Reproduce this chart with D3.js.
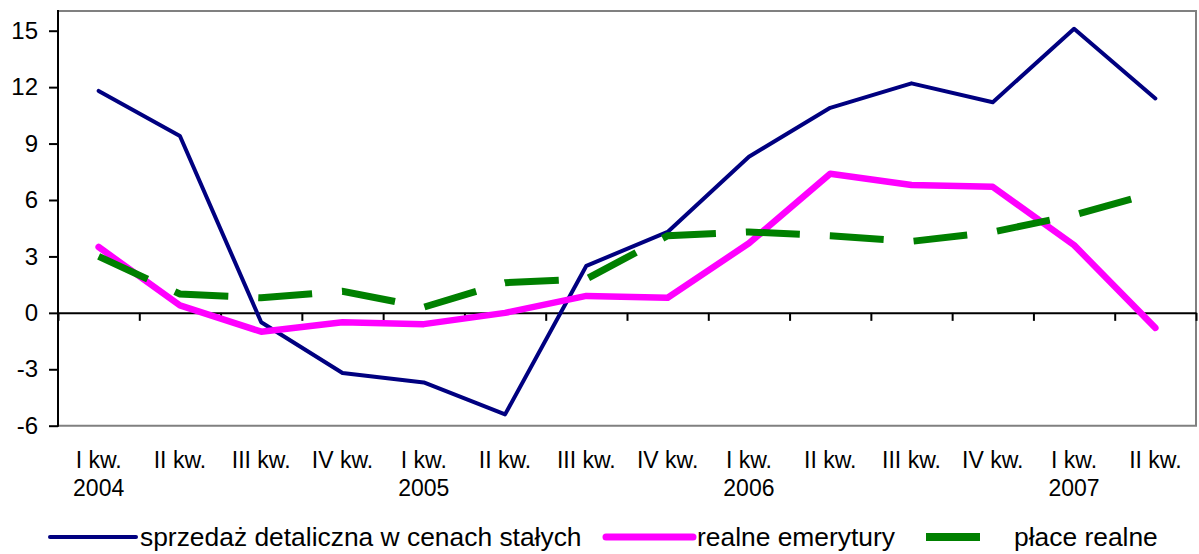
<!DOCTYPE html>
<html>
<head>
<meta charset="utf-8">
<script src="https://cdn.jsdelivr.net/npm/d3@7"></script>
<style>
  body { margin: 0; background: #fff; }
  svg { display: block; font-family: "Liberation Sans", Arial, sans-serif; }
</style>
</head>
<body>
<div id="chart"></div>
<script>
// quarters and years under them
const quarters = ["I kw.", "II kw.", "III kw.", "IV kw.", "I kw.", "II kw.", "III kw.", "IV kw.",
                  "I kw.", "II kw.", "III kw.", "IV kw.", "I kw.", "II kw."];
const years = ["2004", "", "", "", "2005", "", "", "", "2006", "", "", "", "2007", ""];

const sprzedaz = [11.8, 9.4, -0.5, -3.2, -3.7, -5.4, 2.5, 4.3, 8.3, 10.9, 12.2, 11.2, 15.1, 11.4];
const emerytury = [3.5, 0.4, -1.0, -0.5, -0.6, 0.0, 0.9, 0.8, 3.7, 7.4, 6.8, 6.7, 3.6, -0.8];
const place = [3.0, 1.0, 0.8, 1.15, 0.3, 1.6, 1.8, 4.1, 4.3, 4.1, 3.8, 4.3, 5.2, 6.4];

const yTicks = [-6, -3, 0, 3, 6, 9, 12, 15];

const seriesNames = ["sprzedaż detaliczna w cenach stałych", "realne emerytury", "płace realne"];

const width = 1199, height = 554;
const plotLeft = 58, plotRight = 1196, plotTop = 11.9, plotBottom = 425.7;

const svg = d3.select("#chart")
  .append("svg")
  .attr("width", width)
  .attr("height", height);

const x = d3.scaleBand()
  .domain(d3.range(quarters.length))
  .range([plotLeft, plotRight]);

const xEdge = d3.scaleLinear()
  .domain([0, quarters.length])
  .range([plotLeft, plotRight]);

const y = d3.scaleLinear()
  .domain([-6, 16])
  .range([plotBottom, plotTop]);

// gray frame top / right / bottom
svg.append("path")
  .attr("d", `M${plotLeft},${plotTop - 1}H${plotRight}V${plotBottom}H${plotLeft}`)
  .attr("fill", "none")
  .attr("stroke", "#808080")
  .attr("stroke-width", 2);

// y axis (plain hyphen for negatives, like the original)
const yAxis = svg.append("g")
  .attr("transform", `translate(${plotLeft},0)`)
  .call(d3.axisLeft(y).tickValues(yTicks).tickSize(9).tickPadding(11).tickSizeOuter(0)
    .tickFormat(d => String(d)));
yAxis.select(".domain").attr("stroke", "#000").attr("stroke-width", 2)
  .attr("d", `M0,${plotTop - 2}V${plotBottom + 1}`);
yAxis.selectAll(".tick line").attr("stroke", "#000").attr("stroke-width", 2);
yAxis.selectAll(".tick text")
  .attr("fill", "#000")
  .style("font-size", "24px")
  .style("font-family", "Liberation Sans, Arial, sans-serif");

// category axis on the zero line
const xAxis = svg.append("g")
  .attr("transform", `translate(0,${y(0)})`)
  .call(d3.axisBottom(xEdge).tickValues(d3.range(quarters.length + 1)).tickSize(8).tickFormat("").tickSizeOuter(0));
xAxis.select(".domain").attr("stroke", "#000").attr("stroke-width", 2);
xAxis.selectAll(".tick line").attr("stroke", "#000").attr("stroke-width", 2);

// category labels below the plot
const labels = svg.append("g")
  .style("font-size", "23px")
  .attr("fill", "#000")
  .attr("text-anchor", "middle");

labels.selectAll("text.q")
  .data(quarters)
  .enter()
  .append("text")
  .attr("class", "q")
  .attr("x", (d, i) => x(i) + x.bandwidth() / 2)
  .attr("y", 468)
  .text(d => d);

labels.selectAll("text.yr")
  .data(years)
  .enter()
  .append("text")
  .attr("class", "yr")
  .attr("x", (d, i) => x(i) + x.bandwidth() / 2)
  .attr("y", 496)
  .text(d => d);

const line = d3.line()
  .x((d, i) => x(i) + x.bandwidth() / 2)
  .y(d => y(d));

svg.append("path")
  .datum(sprzedaz)
  .attr("d", line)
  .attr("fill", "none")
  .attr("stroke", "#000080")
  .attr("stroke-width", 4)
  .attr("stroke-linejoin", "round")
  .attr("stroke-linecap", "round");

svg.append("path")
  .datum(emerytury)
  .attr("d", line)
  .attr("fill", "none")
  .attr("stroke", "#ff00ff")
  .attr("stroke-width", 6.5)
  .attr("stroke-linejoin", "round")
  .attr("stroke-linecap", "round");

svg.append("path")
  .datum(place)
  .attr("d", line)
  .attr("fill", "none")
  .attr("stroke", "#008000")
  .attr("stroke-width", 7)
  .attr("stroke-dasharray", "54,30");

// legend
const legend = svg.append("g").style("font-size", "26.4px").attr("fill", "#000");
const legendY = 537;

legend.append("line")
  .attr("x1", 50).attr("x2", 136).attr("y1", legendY).attr("y2", legendY)
  .attr("stroke", "#000080").attr("stroke-width", 4).attr("stroke-linecap", "round");
legend.append("text")
  .attr("x", 140).attr("y", legendY).attr("dy", "0.35em")
  .text(seriesNames[0]);

legend.append("line")
  .attr("x1", 606).attr("x2", 693).attr("y1", legendY).attr("y2", legendY)
  .attr("stroke", "#ff00ff").attr("stroke-width", 7).attr("stroke-linecap", "round");
legend.append("text")
  .attr("x", 697).attr("y", legendY).attr("dy", "0.35em")
  .text(seriesNames[1]);

legend.append("line")
  .attr("x1", 926).attr("x2", 980).attr("y1", legendY).attr("y2", legendY)
  .attr("stroke", "#008000").attr("stroke-width", 8);
legend.append("text")
  .attr("x", 1014).attr("y", legendY).attr("dy", "0.35em")
  .text(seriesNames[2]);
</script>
</body>
</html>
